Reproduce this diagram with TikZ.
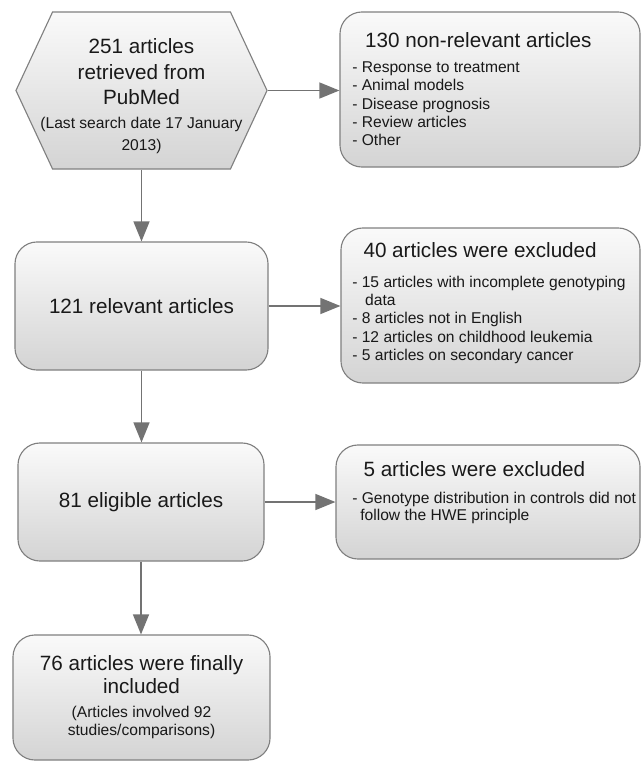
\documentclass[tikz,border=0pt]{standalone}
\usepackage{fontspec}
\setmainfont{Liberation Sans}
\usetikzlibrary{shapes.symbols,arrows.meta,calc}

\newcommand{\headfont}{\fontsize{14.7}{17.8}\selectfont}
\newcommand{\listfont}{\fontsize{11.1}{13}\selectfont}

\begin{document}
\begin{tikzpicture}[x=0.025cm, y=-0.025cm, >={Triangle[length=0.5cm, width=0.4cm]}]
  % styles
  \tikzstyle{stagebox}=[rectangle, rounded corners=0.55cm, draw=black!50, line width=0.8pt, top color=black!2, bottom color=black!17, text=black!90, align=center, font=\headfont];
  \tikzstyle{srcbox}=[signal, signal to=east and west, signal pointer angle=130, draw=black!50, line width=0.8pt, top color=black!2, bottom color=black!17, inner sep=0pt];
  \tikzstyle{listtxt}=[inner sep=0pt, anchor=north west, align=left, font=\listfont, text=black!90];
  \tikzstyle{flow}=[->, draw=black!55, line width=1pt];

  \useasboundingbox (0,0) rectangle (641,761);

  %==================== LEFT COLUMN ====================
  \node[srcbox, minimum width=6.275cm, minimum height=3.925cm] (src) at (141.5,90.5) {};
  \node[align=center, font=\headfont, text=black!90, inner sep=0pt] (srctxt) at ($(src)+(0,5.5)$)
    {251 articles\\[0.3pt]retrieved from\\[0.3pt]PubMed\\[-1pt]\listfont (Last search date 17 January\\[-2.2pt]\listfont 2013)};
  \node[stagebox, minimum width=6.325cm, minimum height=3.2cm] (relev) at (141.5,306) {121 relevant articles};
  \node[stagebox, minimum width=6.15cm, minimum height=2.95cm] (elig) at (141,502) {81 eligible articles};
  \node[stagebox, minimum width=6.425cm, minimum height=3.125cm] (final) at (141.5,697.5)
    {76 articles were finally\\[-1.4pt]included\\[-0.8pt]\listfont (Articles involved 92\\[-5pt]\listfont studies/comparisons)};

  %==================== RIGHT COLUMN (EXCLUSIONS) ====================
  \node[stagebox, minimum width=7.5cm, minimum height=3.875cm] (nonrel) at (490,89.5) {};
  \node[listtxt] (nonreltxt) at (352,32.4)
    {\hspace*{9.2pt}{\headfont 130 non-relevant articles}\\[4.8pt]- Response to treatment\\- Animal models\\- Disease prognosis\\- Review articles\\- Other};
  \node[stagebox, minimum width=7.475cm, minimum height=3.875cm] (excl) at (490.5,305.5) {};
  \node[listtxt] (excltxt) at (352,242)
    {\hspace*{8pt}{\headfont 40 articles were excluded}\\[8.3pt]- 15 articles with incomplete genotyping\\\hspace*{9.2pt}data\\- 8 articles not in English\\- 12 articles on childhood leukemia\\- 5 articles on secondary cancer};
  \node[stagebox, minimum width=7.6cm, minimum height=2.85cm] (hwe) at (488,502) {};
  \node[listtxt] (hwetxt) at (352,461)
    {\hspace*{8pt}{\headfont 5 articles were excluded}\\[6.2pt]- Genotype distribution in controls did not\\[-1pt]\hspace*{5.7pt}follow the HWE principle};

  % arrows
  \draw[flow] (src.east) -- (src.east -| nonrel.west);
  \draw[flow] (src.south) -- (src.south |- relev.north);
  \draw[flow] (relev.east) -- (relev.east -| excl.west);
  \draw[flow] (relev.south) -- (relev.south |- elig.north);
  \draw[flow] (elig.east) -- (elig.east -| hwe.west);
  \draw[flow] (elig.south) -- (elig.south |- final.north);
\end{tikzpicture}
\end{document}
